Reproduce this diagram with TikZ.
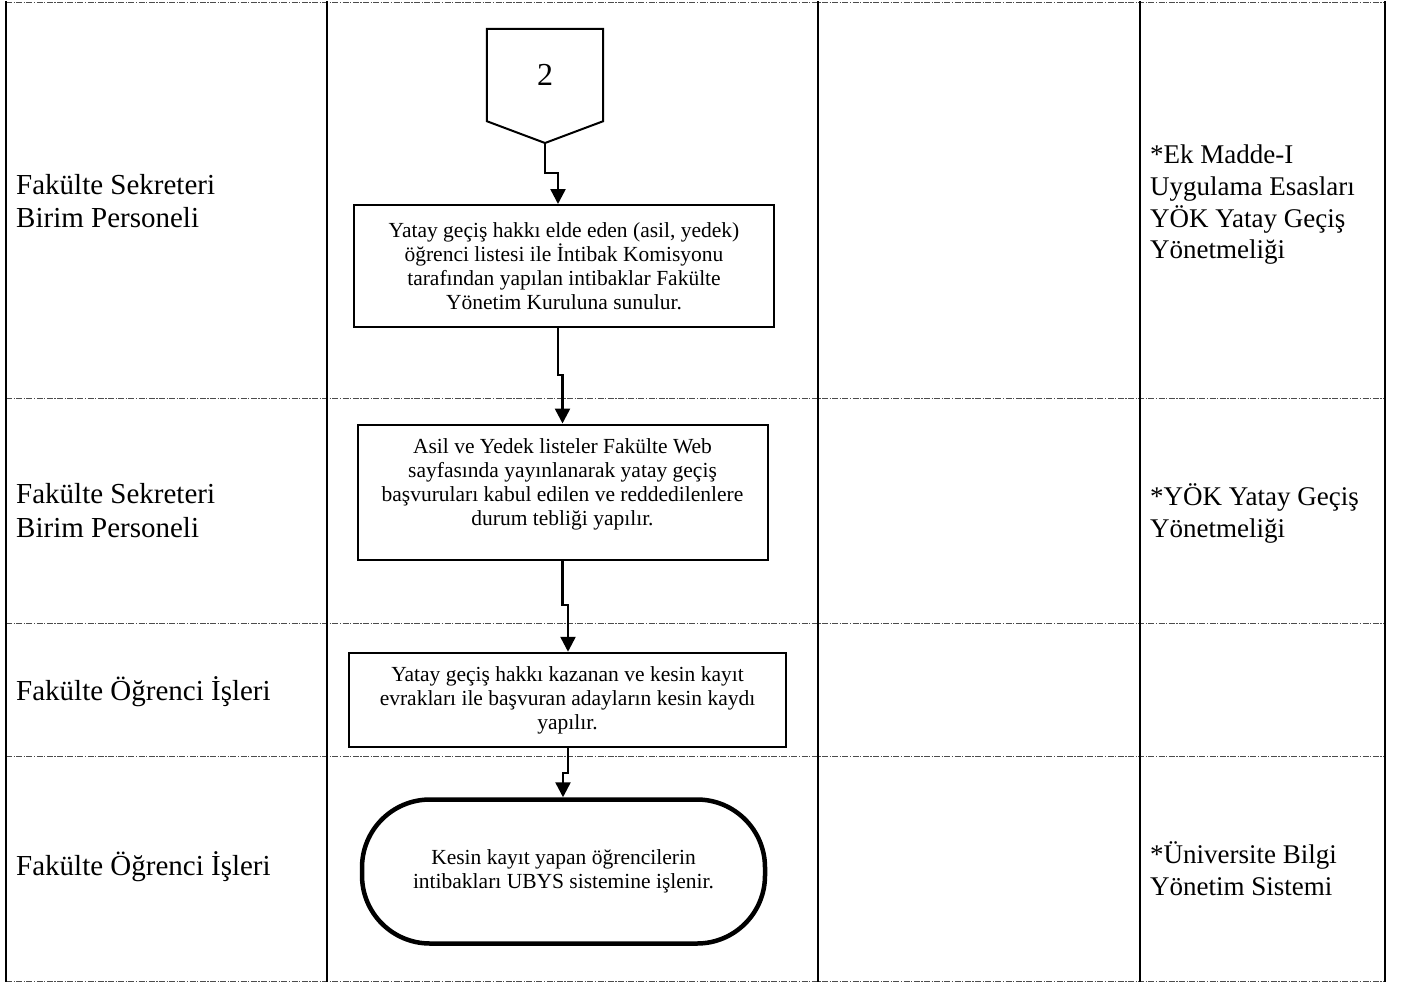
\documentclass[tikz,border=0pt]{standalone}
\usepackage{fontspec}
\setmainfont{Liberation Serif}
\usetikzlibrary{arrows.meta}
\begin{document}
\begin{tikzpicture}[x=1pt,y=-1pt,
  frame/.style={line width=2pt},
  lane/.style={line width=1pt, black!70, dash pattern=on 6pt off 1.5pt on 1.2pt off 1.5pt},
  procbox/.style={draw, line width=2pt, align=center, inner sep=0pt, font=\fontsize{21.5}{24}\selectfont},
  proctext/.style={align=center, inner sep=0pt, font=\fontsize{21.5}{24}\selectfont},
  termbox/.style={draw, line width=4.5pt, rounded corners=68pt, align=center, inner sep=0pt, font=\fontsize{21.5}{24}\selectfont},
  arr/.style={line width=2.5pt, -{Triangle[length=15pt,width=15pt]}},
  lefttext/.style={anchor=base west, inner sep=0pt, font=\fontsize{29}{33.5}\selectfont},
  righttext/.style={anchor=base west, inner sep=0pt, font=\fontsize{27}{31.7}\selectfont},
]
\useasboundingbox (0,0) rectangle (1404,985);

% lane separators (dash-dot)
\foreach \yy in {2,398,623,756,981} {
  \draw[lane] (6,\yy) -- (1385,\yy);
}
% column lines
\foreach \xx in {6,327,818,1140,1385} {
  \draw[frame] (\xx,1) -- (\xx,982);
}

% off-page connector
\node[inner sep=0pt, minimum width=116pt, minimum height=92pt, font=\fontsize{32}{32}\selectfont] (p) at (545,75) {2};
\coordinate (ptip) at (545,143);
\draw[line width=2pt] (p.north west) -- (p.north east) -- (p.south east) -- (ptip) -- (p.south west) -- cycle;

% process boxes
\node[procbox, minimum width=420pt, minimum height=122pt] (b1) at (564,266)
  {Yatay geçiş hakkı elde eden (asil, yedek)\\öğrenci listesi ile İntibak Komisyonu\\tarafından yapılan intibaklar Fakülte\\Yönetim Kuruluna sunulur.};
\node[procbox, minimum width=410pt, minimum height=135pt] (b2) at (562.5,492) {};
\node[proctext] (b2t) at (562.5,484)
  {Asil ve Yedek listeler Fakülte Web\\sayfasında yayınlanarak yatay geçiş\\başvuruları kabul edilen ve reddedilenlere\\durum tebliği yapılır.};
\node[procbox, minimum width=437pt, minimum height=94.5pt] (b3) at (567.5,700)
  {Yatay geçiş hakkı kazanan ve kesin kayıt\\evrakları ile başvuran adayların kesin kaydı\\yapılır.};
\node[termbox, minimum width=403pt, minimum height=144pt] (t) at (563.5,871.5)
  {Kesin kayıt yapan öğrencilerin\\intibakları UBYS sistemine işlenir.};

% connectors
\coordinate (j1) at (558,173);
\coordinate (j2) at (562.5,375);
\coordinate (j3) at (568,605);
\coordinate (j4) at (563,773);
\draw[arr] (ptip) |- (j1) -- (j1 |- b1.north);
\draw[arr] (b1.south -| j1) |- (j2) -- (j2 |- b2.north);
\draw[arr] (b2.south -| j2) |- (j3) -- (j3 |- b3.north);
\draw[arr] (b3.south -| j3) |- (j4) -- (j4 |- t.north);

% left column
\node[lefttext] (l1a) at (16,194) {Fakülte Sekreteri};
\node[lefttext] (l1b) at (16,227) {Birim Personeli};
\node[lefttext] (l2a) at (16,503) {Fakülte Sekreteri};
\node[lefttext] (l2b) at (16,537) {Birim Personeli};
\node[lefttext] (l3) at (16,700) {Fakülte Öğrenci İşleri};
\node[lefttext] (l4) at (16,875) {Fakülte Öğrenci İşleri};

% right column
\node[righttext] (r1a) at (1150,163) {*Ek Madde-I};
\node[righttext] (r1b) at (1150,195) {Uygulama Esasları};
\node[righttext] (r1c) at (1150,227) {YÖK Yatay Geçiş};
\node[righttext] (r1d) at (1150,258) {Yönetmeliği};
\node[righttext] (r2a) at (1150,505) {*YÖK Yatay Geçiş};
\node[righttext] (r2b) at (1150,537) {Yönetmeliği};
\node[righttext] (r4a) at (1150,863) {*Üniversite Bilgi};
\node[righttext] (r4b) at (1150,895) {Yönetim Sistemi};
\end{tikzpicture}
\end{document}
